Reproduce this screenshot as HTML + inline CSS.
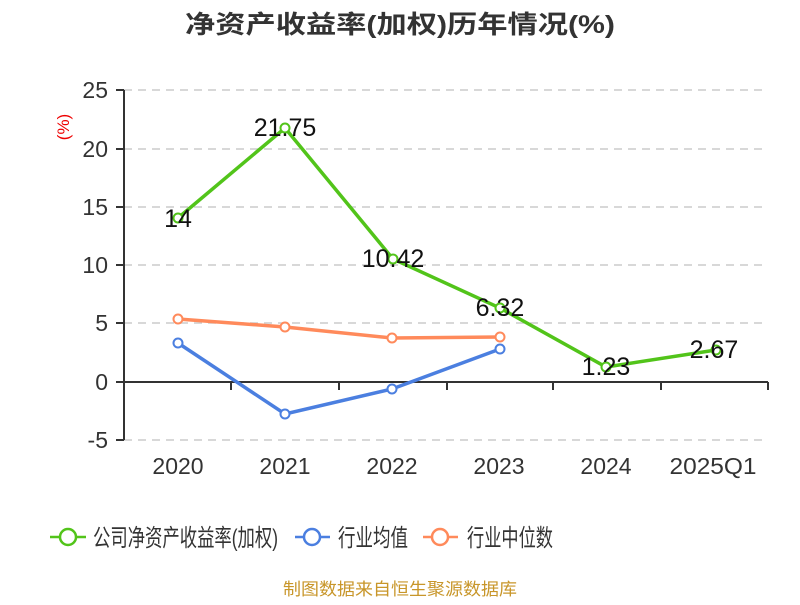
<!DOCTYPE html>
<html><head><meta charset="utf-8"><style>body{margin:0;background:#fff}</style></head><body>
<svg width="800" height="600" xmlns="http://www.w3.org/2000/svg" font-family="Liberation Sans, Noto Sans CJK SC, sans-serif">
<text x="185" y="33" textLength="430" lengthAdjust="spacingAndGlyphs" font-size="25" font-weight="bold" fill="#333">净资产收益率(加权)历年情况(%)</text>
<text transform="translate(69,127) rotate(-90)" text-anchor="middle" font-size="17" fill="#e00">(%)</text>
<g stroke="#ccc" stroke-width="1.5" stroke-dasharray="8,6">
<line x1="124" y1="90" x2="768" y2="90"/><line x1="124" y1="149" x2="768" y2="149"/><line x1="124" y1="207" x2="768" y2="207"/><line x1="124" y1="265" x2="768" y2="265"/><line x1="124" y1="323" x2="768" y2="323"/><line x1="124" y1="440" x2="768" y2="440"/>
</g>
<g stroke="#333" stroke-width="2">
<line x1="124" y1="90" x2="124" y2="440"/><line x1="124" y1="382" x2="768" y2="382"/>
<line x1="116" y1="90" x2="124" y2="90"/><line x1="116" y1="149" x2="124" y2="149"/><line x1="116" y1="207" x2="124" y2="207"/><line x1="116" y1="265" x2="124" y2="265"/><line x1="116" y1="323" x2="124" y2="323"/><line x1="116" y1="382" x2="124" y2="382"/><line x1="116" y1="440" x2="124" y2="440"/>
<line x1="231" y1="382" x2="231" y2="390"/><line x1="339" y1="382" x2="339" y2="390"/><line x1="447" y1="382" x2="447" y2="390"/><line x1="553" y1="382" x2="553" y2="390"/><line x1="661" y1="382" x2="661" y2="390"/><line x1="768" y1="382" x2="768" y2="390"/>
</g>
<g font-size="23" fill="#333" text-anchor="end">
<text x="108" y="98">25</text><text x="108" y="157">20</text><text x="108" y="215">15</text><text x="108" y="273">10</text><text x="108" y="331">5</text><text x="108" y="390">0</text><text x="108" y="448">-5</text>
</g>
<g font-size="23" fill="#333" text-anchor="middle">
<text x="178" y="474">2020</text><text x="285" y="474">2021</text><text x="392" y="474">2022</text><text x="499" y="474">2023</text><text x="606" y="474">2024</text><text x="713" y="474" textLength="87" lengthAdjust="spacingAndGlyphs">2025Q1</text>
</g>
<g fill="none" stroke-width="3.5">
<polyline stroke="#ff8a5b" points="178,319 285,327 392,338 500,337"/>
<polyline stroke="#4b7fe0" points="178,343 285,414 392,389 500,349"/>
<polyline stroke="#52c41a" points="178,218 285,128 393,259 500,308 606,367 716,350"/>
</g>
<g fill="#fff" stroke-width="2">
<g stroke="#ff8a5b"><circle cx="178" cy="319" r="4.5"/><circle cx="285" cy="327" r="4.5"/><circle cx="392" cy="338" r="4.5"/><circle cx="500" cy="337" r="4.5"/></g>
<g stroke="#4b7fe0"><circle cx="178" cy="343" r="4.5"/><circle cx="285" cy="414" r="4.5"/><circle cx="392" cy="389" r="4.5"/><circle cx="500" cy="349" r="4.5"/></g>
<g stroke="#52c41a"><circle cx="178" cy="218" r="4.5"/><circle cx="285" cy="128" r="4.5"/><circle cx="393" cy="259" r="4.5"/><circle cx="500" cy="308" r="4.5"/><circle cx="606" cy="367" r="4.5"/><circle cx="716" cy="350" r="4.5"/></g>
</g>
<g font-size="25" fill="#111" text-anchor="middle">
<text x="178" y="227">14</text><text x="285" y="136">21.75</text><text x="393" y="267">10.42</text><text x="500" y="316">6.32</text><text x="606" y="375">1.23</text><text x="714" y="358">2.67</text>
</g>
<g stroke-width="2.5" fill="#fff">
<line x1="50" y1="537" x2="86" y2="537" stroke="#52c41a"/><circle cx="68" cy="537" r="8" stroke="#52c41a"/>
<line x1="295" y1="537" x2="330" y2="537" stroke="#4b7fe0"/><circle cx="312" cy="537" r="8" stroke="#4b7fe0"/>
<line x1="423" y1="537" x2="458" y2="537" stroke="#ff8a5b"/><circle cx="440" cy="537" r="8" stroke="#ff8a5b"/>
</g>
<g font-size="24" fill="#333">
<text x="93" y="546" textLength="185" lengthAdjust="spacingAndGlyphs">公司净资产收益率(加权)</text><text x="338" y="546" textLength="70" lengthAdjust="spacingAndGlyphs">行业均值</text><text x="467" y="546" textLength="86" lengthAdjust="spacingAndGlyphs">行业中位数</text>
</g>
<text x="283" y="595" textLength="234" lengthAdjust="spacingAndGlyphs" font-size="17" fill="#c8962a">制图数据来自恒生聚源数据库</text>
</svg>
</body></html>
